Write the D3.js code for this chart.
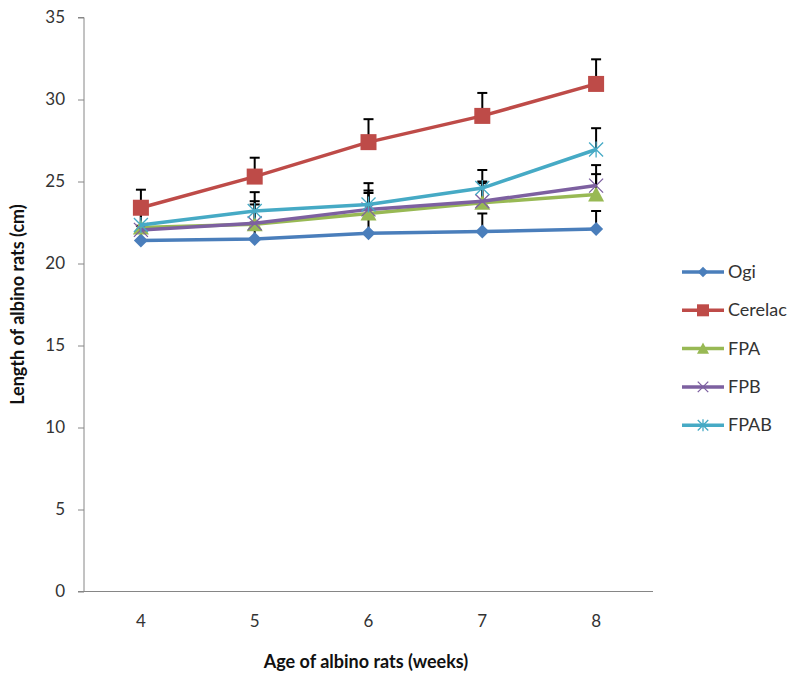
<!DOCTYPE html>
<html><head><meta charset="utf-8">
<script src="https://cdn.jsdelivr.net/npm/d3@7"></script>
<style>body{margin:0;background:#fff}svg{display:block}</style>
</head><body><svg id="c" width="800" height="680"></svg>
<script>
const weeks = ["4","5","6","7","8"];
const seriesNames = ["Ogi","Cerelac","FPA","FPB","FPAB"];
const ogi     = [21.4, 21.5, 21.85, 21.95, 22.1];
const cerelac = [23.4, 25.3, 27.4, 29.0, 30.95];
const fpa     = [22.2, 22.4, 23.05, 23.7, 24.2];
const fpb     = [22.05, 22.45, 23.3, 23.8, 24.75];
const fpab    = [22.35, 23.2, 23.6, 24.6, 26.95];
const errOgi     = [0.9, 1.0, 1.1, 1.1, 1.1];
const errCerelac = [1.1, 1.15, 1.4, 1.4, 1.5];
const errFpa     = [1.1, 1.2, 1.25, 1.2, 1.25];
const errFpb     = [1.1, 1.35, 1.15, 1.2, 1.25];
const errFpab    = [1.1, 1.15, 1.3, 1.1, 1.3];
const yTicks = [0,5,10,15,20,25,30,35];
const colors = ["#4A7EBB","#BE4B48","#98B954","#7D60A0","#46AAC5"];
const markers = ["diamond","square","triangle","x","star"];

const values = [ogi, cerelac, fpa, fpb, fpab];
const errs = [errOgi, errCerelac, errFpa, errFpb, errFpab];

const svg = d3.select("#c");
const font = "Lato, 'Liberation Sans', sans-serif";
const L = 84, R = 653, T = 17.5, B = 591.5;
const x = d3.scaleBand().domain(weeks).range([L, R]);
const y = d3.scaleLinear().domain([0,35]).range([B, T]);

// y axis
const ya = svg.append("g").attr("transform",`translate(${L},0)`)
  .call(d3.axisLeft(y).tickValues(yTicks).tickSize(6).tickPadding(13));
ya.select(".domain").attr("stroke","#868686").attr("d",`M-6,${T}H0V${B}`);
ya.selectAll(".tick line").attr("stroke","#868686");
ya.selectAll("text").attr("font-family",font).attr("font-size",17).attr("fill","#333");

// x axis
const xa = svg.append("g").attr("transform",`translate(0,${B})`)
  .call(d3.axisBottom(x).tickSize(0).tickPadding(23));
xa.select(".domain").attr("stroke","#868686").attr("d",`M${L-6},0H${R}`);
xa.selectAll("text").attr("font-family",font).attr("font-size",17).attr("fill","#333");

// titles
svg.append("text").attr("x", 366).attr("y", 668).attr("text-anchor","middle")
  .attr("font-family",font).attr("font-weight","bold").attr("font-size",18).attr("fill","#111")
  .text("Age of albino rats (weeks)");
svg.append("text").attr("transform",`translate(24,${(T+B)/2}) rotate(-90)`).attr("text-anchor","middle")
  .attr("font-family",font).attr("font-weight","bold").attr("font-size",18).attr("fill","#111")
  .text("Length of albino rats (cm)");

const cx = w => x(w) + x.bandwidth()/2;

function drawMarker(g, type, color, px, py, scale=1){
  const s = scale;
  if(type==="diamond"){
    g.append("path").attr("d",`M${px},${py-7*s}L${px+7*s},${py}L${px},${py+7*s}L${px-7*s},${py}Z`).attr("fill",color);
  } else if(type==="square"){
    g.append("rect").attr("x",px-8*s).attr("y",py-8*s).attr("width",16*s).attr("height",16*s).attr("fill",color);
  } else if(type==="triangle"){
    g.append("path").attr("d",`M${px},${py-8*s}L${px+8*s},${py+7*s}L${px-8*s},${py+7*s}Z`).attr("fill",color);
  } else if(type==="x"){
    g.append("path").attr("d",`M${px-7*s},${py-7*s}L${px+7*s},${py+7*s}M${px+7*s},${py-7*s}L${px-7*s},${py+7*s}`)
      .attr("stroke",color).attr("stroke-width",1.3);
  } else if(type==="star"){
    g.append("path").attr("d",`M${px-7*s},${py-7*s}L${px+7*s},${py+7*s}M${px+7*s},${py-7*s}L${px-7*s},${py+7*s}M${px},${py-8*s}L${px},${py+8*s}`)
      .attr("stroke",color).attr("stroke-width",1.3);
  }
}

// error bars first (plus direction)
const eg = svg.append("g");
values.forEach((vals, si) => {
  vals.forEach((v,i)=>{
    const px = cx(weeks[i]), top = y(v+errs[si][i]);
    eg.append("line").attr("x1",px).attr("x2",px).attr("y1",y(v)).attr("y2",top).attr("stroke","#000").attr("stroke-width",2);
    eg.append("line").attr("x1",px-5).attr("x2",px+5).attr("y1",top).attr("y2",top).attr("stroke","#000").attr("stroke-width",2);
  });
});

// series
const line = d3.line().x((d,i)=>cx(weeks[i])).y(d=>y(d));
values.forEach((vals, si) => {
  const g = svg.append("g");
  g.append("path").datum(vals).attr("d",line).attr("fill","none").attr("stroke",colors[si]).attr("stroke-width",3.5);
  vals.forEach((v,i)=>drawMarker(g, markers[si], colors[si], cx(weeks[i]), y(v)));
});

// legend
const lg = svg.append("g");
seriesNames.forEach((n,i)=>{
  const ly = 272 + i*38.3;
  lg.append("line").attr("x1",682).attr("x2",724).attr("y1",ly).attr("y2",ly).attr("stroke",colors[i]).attr("stroke-width",3.5);
  drawMarker(lg, markers[i], colors[i], 703, ly, 0.75);
  lg.append("text").attr("x",728).attr("y",ly+6).attr("font-family",font).attr("font-size",18).attr("fill","#333").text(n);
});
</script></body></html>
